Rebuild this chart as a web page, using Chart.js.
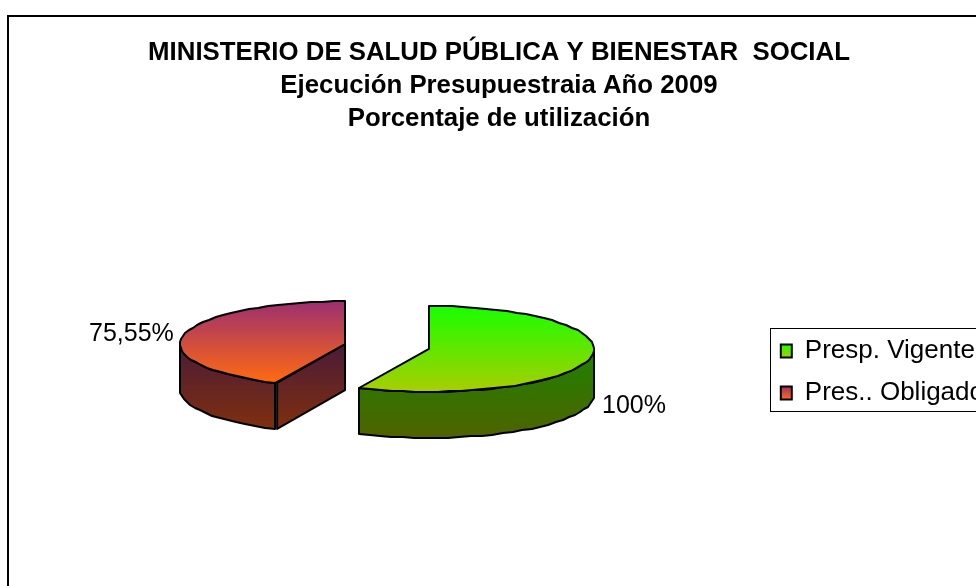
<!DOCTYPE html>
<html>
<head>
<meta charset="utf-8">
<style>
  html, body { margin: 0; background: #fff; overflow: hidden; width: 976px; height: 586px; }
  #frame { position: absolute; left: 7px; top: 15px; border: 2px solid #000; width: 985px; height: 710px; }
  canvas { display: block; }
</style>
</head>
<body>
<div id="frame"><canvas id="chart" width="985" height="710"></canvas></div>
<script src="https://cdn.jsdelivr.net/npm/chart.js@4"></script>
<script>
const categories = ['Presp. Vigente', 'Pres.. Obligado']
const percentValues = [100, 75.55]
const chartTitle = [
  'MINISTERIO DE SALUD PÚBLICA Y BIENESTAR  SOCIAL',
  'Ejecución Presupuestraia Año 2009',
  'Porcentaje de utilización'
]

// look of the 3d pie
const squash = 0.26
const explode = 43
const depth = 46
const pieCenterX = 387 - 9
const pieCenterY = 346.5 - 17
const faceColors = [['#18ff00', '#a2d000'], ['#9c2f70', '#ff6a10']]
const wallColors = [['#1c8200', '#506200'], ['#4a1b38', '#82300c']]
const labelSpots = [[593, 389], [80, 317]]

const ctx = document.getElementById('chart').getContext('2d')

function faceGradient(c) {
  const area = c.chart.chartArea
  if (!area) return faceColors[c.dataIndex][0]
  const mid = (area.top + area.bottom) / 2
  const r = 165
  const g = c.chart.ctx.createLinearGradient(0, mid - r, 0, mid + r * 0.9)
  g.addColorStop(0, faceColors[c.dataIndex][0])
  g.addColorStop(1, faceColors[c.dataIndex][1])
  return g
}

function legendGradient(i, top) {
  const g = ctx.createLinearGradient(0, top, 0, top + 13)
  g.addColorStop(0, faceColors[i][0])
  g.addColorStop(1, faceColors[i][1])
  return g
}

function rimPath(c, cx, cy, rx, ry, a0, a1, first) {
  const steps = Math.max(2, Math.round(Math.abs(a1 - a0) / 0.07))
  for (let i = 0; i <= steps; i++) {
    const a = a0 + (a1 - a0) * i / steps
    // rounded, the original outline is a coarse polyline
    const x = Math.round(cx + Math.cos(a) * rx)
    const y = Math.round(cy + Math.sin(a) * ry)
    if (i === 0 && first) c.moveTo(x, y)
    else c.lineTo(x, y)
  }
}

const pie3d = {
  id: 'pie3d',
  beforeDatasetDraw(chart, args) {
    const c = chart.ctx
    args.meta.data.forEach(function(arc, i) {
      const mid = (arc.startAngle + arc.endAngle) / 2
      const cx = pieCenterX + Math.cos(mid) * explode
      const cy = pieCenterY + Math.sin(mid) * explode * squash
      const rx = arc.outerRadius
      const ry = rx * squash

      const wg = c.createLinearGradient(0, cy, 0, cy + ry + depth)
      wg.addColorStop(0, wallColors[i][0])
      wg.addColorStop(1, wallColors[i][1])
      c.save()
      c.lineWidth = 2
      c.strokeStyle = '#000'
      c.lineJoin = 'round'
      c.fillStyle = wg

      // cut side that looks at the viewer
      if (Math.cos(arc.startAngle) < -0.01) {
        const e = [cx + Math.cos(arc.startAngle) * rx, cy + Math.sin(arc.startAngle) * ry]
        c.beginPath()
        c.moveTo(cx, cy)
        c.lineTo(e[0] + 2, e[1])
        c.lineTo(e[0] + 2, e[1] + depth)
        c.lineTo(cx, cy + depth)
        c.closePath()
        c.fill()
        c.stroke()
      }

      // outer wall
      const a0 = Math.max(arc.startAngle, 0)
      const a1 = Math.min(arc.endAngle, Math.PI)
      c.beginPath()
      rimPath(c, cx, cy, rx, ry, a0, a1, true)
      rimPath(c, cx, cy + depth, rx, ry, a1, a0, false)
      c.closePath()
      c.fill()
      c.stroke()
      c.restore()

      // top face, the arc element itself squashed
      c.save()
      c.translate(cx, cy)
      c.scale(1, squash)
      c.translate(-arc.x, -arc.y)
      arc.draw(c)
      c.restore()

      c.save()
      c.lineWidth = 2
      c.strokeStyle = '#000'
      c.lineJoin = 'round'
      c.beginPath()
      c.moveTo(cx, cy)
      rimPath(c, cx, cy, rx, ry, arc.startAngle, arc.endAngle, false)
      c.closePath()
      c.stroke()
      c.restore()

      c.save()
      c.fillStyle = '#000'
      c.font = '25px "Liberation Sans"'
      c.textBaseline = 'middle'
      c.fillText(String(percentValues[i]).replace('.', ',') + '%', labelSpots[i][0], labelSpots[i][1])
      c.restore()
    })
    return false
  },
  afterDraw(chart) {
    // border round the legend, it runs off the right side
    const hb = chart.legend.legendHitBoxes
    const c = chart.ctx
    c.save()
    c.strokeStyle = '#000'
    c.lineWidth = 1
    c.strokeRect(Math.round(hb[0].left) - 10.5, Math.round(hb[0].top) - 9.5, 400, hb[1].top + hb[1].height - hb[0].top + 15)
    c.restore()
  }
}

new Chart(ctx, {
  type: 'pie',
  data: {
    labels: categories,
    datasets: [{
      data: percentValues,
      backgroundColor: faceGradient,
      borderWidth: 0,
      clip: false
    }]
  },
  options: {
    responsive: false,
    maintainAspectRatio: false,
    animation: false,
    radius: 165,
    layout: { padding: { left: -5 } },
    plugins: {
      tooltip: { enabled: false },
      title: {
        display: true,
        text: chartTitle,
        color: '#000',
        font: { family: '"Liberation Sans"', size: 25.8, weight: 'bold', lineHeight: 1.28 },
        padding: { top: 19, bottom: 9 }
      },
      legend: {
        position: 'right',
        labels: {
          color: '#000',
          font: { family: '"Liberation Sans"', size: 26 },
          boxWidth: 11,
          boxHeight: 13,
          padding: 16,
          generateLabels: function() {
            return categories.map(function(name, i) {
              return {
                text: name,
                index: i,
                fillStyle: legendGradient(i, i === 0 ? 327 : 369),
                strokeStyle: '#000',
                lineWidth: 2
              }
            })
          }
        }
      }
    }
  },
  plugins: [pie3d]
})
</script>
</body>
</html>
